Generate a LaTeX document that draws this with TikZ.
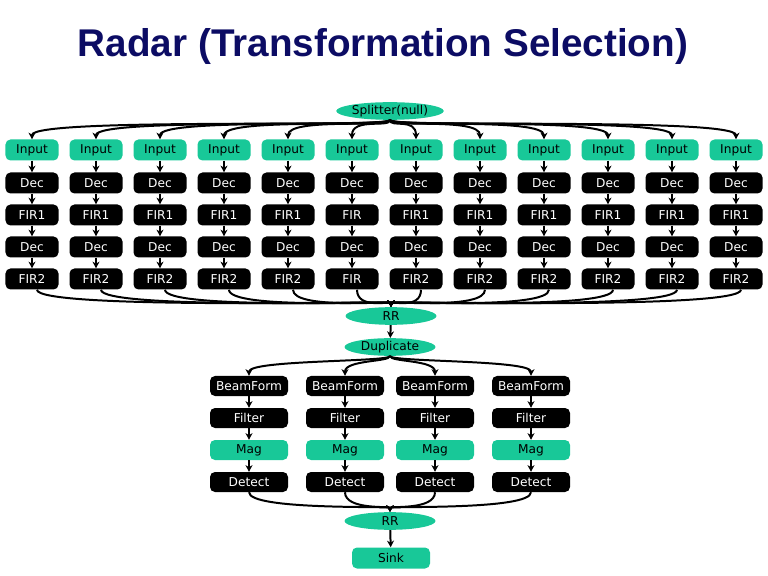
\documentclass[tikz,border=0pt]{standalone}
\usepackage{tikz}
\usepackage{xcolor}
\usepackage{fontspec}
\usetikzlibrary{shapes.geometric, arrows.meta, positioning}
\newfontfamily\labelfont{DejaVu Sans}
\newfontfamily\headfont{Liberation Sans}
\definecolor{radarteal}{RGB}{24,200,152}
\definecolor{radarnavy}{RGB}{12,12,100}

\begin{document}
\begin{tikzpicture}[
    x=0.3mm, y=-0.3mm,
    block/.style={rectangle, rounded corners=1.5mm, fill=black, text=white, minimum width=15.9mm, minimum height=6.3mm, inner sep=0pt, font=\labelfont\fontsize{10.4}{12}\selectfont},
    tealblock/.style={block, fill=radarteal, text=black},
    wideblock/.style={block, minimum width=23.4mm, minimum height=6mm},
    joiner/.style={ellipse, fill=radarteal, text=black, minimum width=27.3mm, minimum height=5.3mm, inner sep=0pt, font=\labelfont\fontsize{10.4}{12}\selectfont},
    arrow/.style={-{Stealth[length=2mm, width=2.1mm]}, line width=1.7pt}
]
    \useasboundingbox (0,0) rectangle (768,576);

    % Title
    \node[font=\headfont\bfseries\fontsize{33}{40}\selectfont, text=radarnavy] (title) at (383,47) {Radar (Transformation Selection)};

    % Split and join of the twelve channels
    \node[joiner] (split) at (390,111) {Splitter(null)};
    \node[joiner] (rrtop) at (391,316) {RR};

    % Channels
    \foreach \i/\firA/\firB in {1/FIR1/FIR2, 2/FIR1/FIR2, 3/FIR1/FIR2, 4/FIR1/FIR2, 5/FIR1/FIR2, 6/FIR/FIR,
                                7/FIR1/FIR2, 8/FIR1/FIR2, 9/FIR1/FIR2, 10/FIR1/FIR2, 11/FIR1/FIR2, 12/FIR1/FIR2} {
        \pgfmathsetmacro{\cx}{-32+64*\i}
        \node[tealblock] (input\i) at (\cx,150) {Input};
        \node[block] (deca\i) at (\cx,183) {Dec};
        \node[block] (fira\i) at (\cx,215) {\firA};
        \node[block] (decb\i) at (\cx,247) {Dec};
        \node[block] (firb\i) at (\cx,279) {\firB};

        \draw[arrow] (split.south) .. controls +(0,8) and +(0,-22) .. (input\i.north);
        \draw[arrow] (input\i) -- (deca\i);
        \draw[arrow] (deca\i) -- (fira\i);
        \draw[arrow] (fira\i) -- (decb\i);
        \draw[arrow] (decb\i) -- (firb\i);
        \draw[arrow] ([xshift=1.5mm]firb\i.south) .. controls +(0,20) and +(0,-6) .. (rrtop.north);
    }

    % Beams
    \node[joiner] (dup) at (390,347) {Duplicate};
    \node[joiner] (rrlow) at (390,521) {RR};
    \node[wideblock, fill=radarteal, text=black, minimum height=6.3mm] (sink) at (391,558) {Sink};
    \draw[arrow] (rrtop) -- (dup);
    \draw[arrow] (rrlow) -- (sink);

    \foreach \j/\cx in {1/249, 2/345, 3/435, 4/531} {
        \node[wideblock] (beam\j) at (\cx,386) {BeamForm};
        \node[wideblock] (filter\j) at (\cx,418) {Filter};
        \node[wideblock, fill=radarteal, text=black] (mag\j) at (\cx,450) {Mag};
        \node[wideblock] (detect\j) at (\cx,482) {Detect};

        \draw[arrow] (dup.south) .. controls +(0,6) and +(0,-16) .. (beam\j.north);
        \draw[arrow] (beam\j) -- (filter\j);
        \draw[arrow] (filter\j) -- (mag\j);
        \draw[arrow] (mag\j) -- (detect\j);
        \draw[arrow] (detect\j.south) .. controls +(0,18) and +(0,-6) .. (rrlow.north);
    }

\end{tikzpicture}
\end{document}
